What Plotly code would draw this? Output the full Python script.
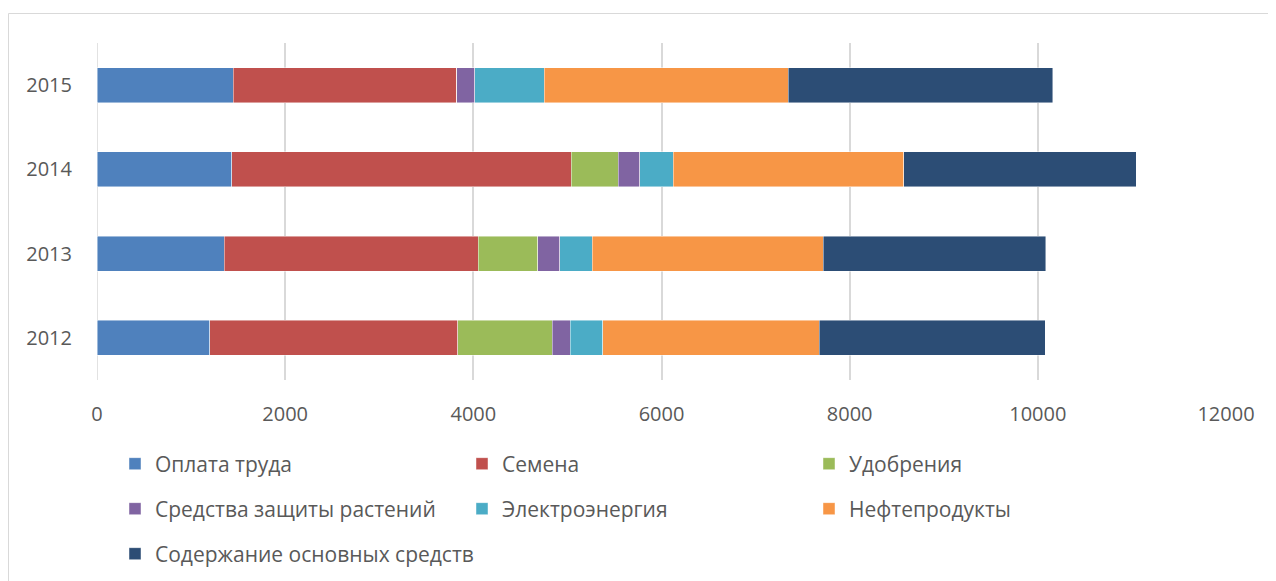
import plotly.graph_objects as go

years = ["2012", "2013", "2014", "2015"]
series_names = [
    "Оплата труда",
    "Семена",
    "Удобрения",
    "Средства защиты растений",
    "Электроэнергия",
    "Нефтепродукты",
    "Содержание основных средств",
]
oplata = [1196, 1351, 1430, 1447]
semena = [2639, 2701, 3612, 2378]
udobrenia = [1003, 630, 499, 0]
szr = [194, 236, 227, 191]
electro = [342, 347, 357, 736]
neft = [2304, 2453, 2452, 2596]
soderzh = [2400, 2367, 2467, 2812]
x_ticks = [0, 2000, 4000, 6000, 8000, 10000, 12000]

values = [oplata, semena, udobrenia, szr, electro, neft, soderzh]
colors = ["#4F81BD", "#C0504D", "#9BBB59", "#8064A2", "#4BACC6", "#F79646", "#2C4D75"]
legend_ids = ["legend", "legend", "legend", "legend2", "legend2", "legend2", "legend3"]

FONT = "Open Sans"
TXT = "#595959"

fig = go.Figure()
for name, vals, col, lg in zip(series_names, values, colors, legend_ids):
    fig.add_trace(go.Bar(
        y=years, x=vals, name=name, orientation="h",
        marker=dict(color=col, line=dict(color="rgba(255,255,255,0.6)", width=0.75)),
        legend=lg,
    ))

# page has an 8px body margin
OFF = 8
PL, PR, PT, PB = 97, 1226, 43, 380   # plot area in page pixels
W, H = 1276 - OFF, 581 - OFF
L, T = PL - OFF, PT - OFF
R = 0
B = H - (PB - OFF)
paper_w = W - L            # paper spans page x from PL to 1276
ph = PB - PT
x_dom_end = (PR - PL) / paper_w

def px2x(px):
    return (px - PL) / paper_w

def py2y(py):
    return (PB - py) / ph

def leg(py, ew):
    return dict(
        x=px2x(115), y=py2y(py),
        orientation="h", xanchor="left", yanchor="middle",
        entrywidth=ew, entrywidthmode="pixels",
        font=dict(family=FONT, size=21, color=TXT),
        bgcolor="rgba(0,0,0,0)", traceorder="normal",
    )

fig.update_layout(
    width=W, height=H,
    margin=dict(l=L, r=R, t=T, b=B),
    paper_bgcolor="white", plot_bgcolor="white",
    barmode="stack", bargap=0.585,
    font=dict(family=FONT, color=TXT),
    xaxis=dict(
        domain=[0, x_dom_end], automargin=False,
        range=[0, 12000], tickvals=x_ticks, ticktext=[str(v) for v in x_ticks],
        showgrid=True, gridcolor="#D9D9D9", gridwidth=1.5,
        zeroline=False, showline=False,
        tickfont=dict(family=FONT, size=20, color=TXT),
        ticklabelstandoff=20,
    ),
    yaxis=dict(
        automargin=False,
        type="category", categoryorder="array", categoryarray=years,
        showgrid=False, zeroline=False, showline=False,
        tickfont=dict(family=FONT, size=20, color=TXT),
        ticklabelstandoff=24,
    ),
    legend=leg(464, 302),
    legend2=leg(509, 302),
    legend3=leg(554, 420),
    shapes=[
        dict(type="rect", xref="paper", yref="paper",
             x0=px2x(8.5), x1=px2x(1300), y0=py2y(13.5), y1=py2y(620),
             line=dict(color="#D9D9D9", width=1), fillcolor="rgba(0,0,0,0)", layer="below"),
        dict(type="line", xref="x", yref="paper", x0=0, x1=0, y0=0, y1=1,
             line=dict(color="#D9D9D9", width=1.5), layer="below"),
    ],
)

fig.write_html("out.html")
